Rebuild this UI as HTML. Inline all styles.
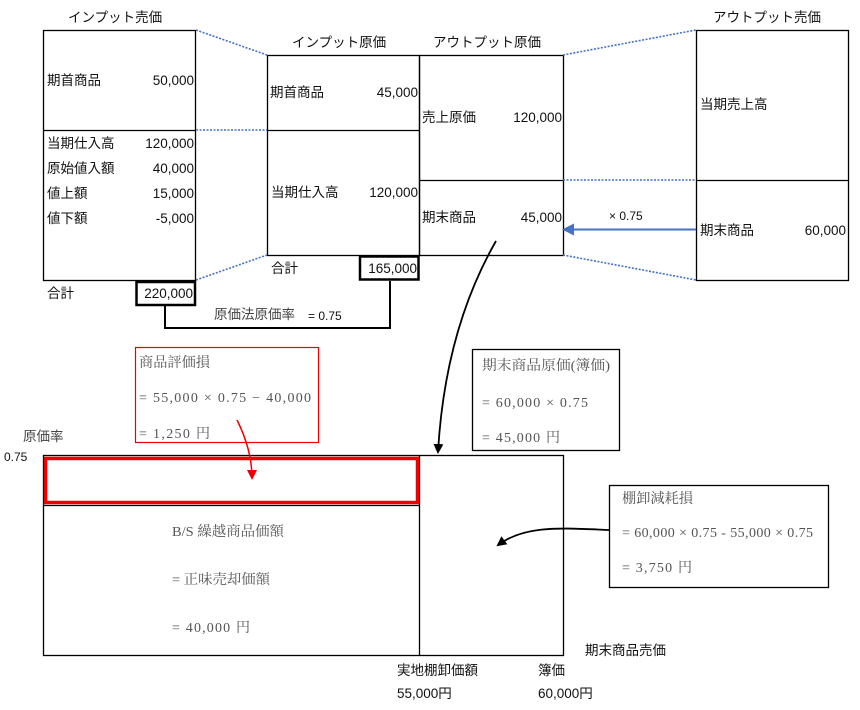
<!DOCTYPE html>
<html><head><meta charset="utf-8"><style>
html,body{margin:0;padding:0;background:#fff;width:860px;height:710px;overflow:hidden}
svg{display:block}
.s{font-family:"Liberation Sans","Noto Sans CJK JP",sans-serif;font-size:13.5px;fill:#111}
.r{font-family:"Liberation Serif","Noto Serif CJK SC",serif;font-size:14px;fill:#555}
</style></head><body>
<svg width="860" height="710" viewBox="0 0 860 710" xmlns="http://www.w3.org/2000/svg">
<defs>
<marker id="ab" markerWidth="10" markerHeight="10" refX="8" refY="5" orient="auto" markerUnits="userSpaceOnUse"><path d="M0,0 L10,5 L0,10 Z" fill="#000"/></marker>
<marker id="ar" markerWidth="10" markerHeight="10" refX="8" refY="5" orient="auto" markerUnits="userSpaceOnUse"><path d="M0,0 L10,5 L0,10 Z" fill="#e00"/></marker>
<marker id="abl" markerWidth="12" markerHeight="12" refX="9" refY="6" orient="auto" markerUnits="userSpaceOnUse"><path d="M0,0 L12,6 L0,12 Z" fill="#4472c4"/></marker>
</defs>
<g fill="none" stroke="#000" stroke-width="1.3">
<rect x="43.5" y="30.5" width="152" height="250"/><line x1="43" y1="130.5" x2="196" y2="130.5"/>
<rect x="267.5" y="55.5" width="152" height="200"/><line x1="267" y1="130.5" x2="420" y2="130.5"/>
<rect x="419.5" y="55.5" width="144" height="200"/><line x1="419" y1="180.5" x2="564" y2="180.5"/>
<rect x="696.5" y="30.5" width="152" height="250"/><line x1="696" y1="180.5" x2="849" y2="180.5"/>
<rect x="43.5" y="455.5" width="520" height="200"/><line x1="419.5" y1="455" x2="419.5" y2="656"/><line x1="43" y1="505.5" x2="420" y2="505.5"/>
<rect x="472.5" y="349.5" width="147" height="101"/>
<rect x="609.5" y="485.5" width="219" height="102"/>
</g>
<g fill="none" stroke="#000" stroke-width="2.5">
<rect x="136.5" y="282" width="58.5" height="23"/>
<rect x="360" y="256.5" width="58.5" height="23"/>
</g>
<polyline points="165,306 165,328 390,328 390,281" fill="none" stroke="#000" stroke-width="2"/>
<g stroke="#4472c4" stroke-width="1.6" stroke-dasharray="2,1.5" fill="none">
<line x1="196" y1="30" x2="267" y2="55"/><line x1="196" y1="130" x2="267" y2="130"/><line x1="196" y1="280" x2="267" y2="255"/>
<line x1="563" y1="55" x2="696" y2="30"/><line x1="563" y1="180" x2="696" y2="180"/><line x1="563" y1="255" x2="696" y2="280"/>
</g>
<line x1="696" y1="229.5" x2="565" y2="229.5" stroke="#4472c4" stroke-width="2" marker-end="url(#abl)"/>
<rect x="135.5" y="347.5" width="183" height="95" fill="none" stroke="#e00" stroke-width="1.2"/>
<rect x="45.5" y="458.5" width="372" height="44" fill="none" stroke="#e00" stroke-width="3.5"/>
<path d="M237,420 Q252,450 252,478" fill="none" stroke="#e00" stroke-width="1.5" marker-end="url(#ar)"/>
<path d="M496,241 Q445,330 438,452" fill="none" stroke="#000" stroke-width="1.8" marker-end="url(#ab)"/>
<path d="M609,530 C560,528 525,525 498,545" fill="none" stroke="#000" stroke-width="1.8" marker-end="url(#ab)"/>

<text class="s" x="68" y="22">インプット売価</text>
<text class="s" x="292" y="47">インプット原価</text>
<text class="s" x="433" y="47">アウトプット原価</text>
<text class="s" x="713" y="22">アウトプット売価</text>
<text class="s" x="47" y="85">期首商品</text><text class="s" x="194" y="85" text-anchor="end">50,000</text>
<text class="s" x="47" y="148">当期仕入高</text><text class="s" x="194" y="148" text-anchor="end">120,000</text>
<text class="s" x="47" y="173">原始値入額</text><text class="s" x="194" y="173" text-anchor="end">40,000</text>
<text class="s" x="47" y="198">値上額</text><text class="s" x="194" y="198" text-anchor="end">15,000</text>
<text class="s" x="47" y="223">値下額</text><text class="s" x="194" y="223" text-anchor="end">-5,000</text>
<text class="s" x="47" y="298">合計</text><text class="s" x="193" y="298" text-anchor="end">220,000</text>
<text class="s" x="270" y="97">期首商品</text><text class="s" x="418" y="97" text-anchor="end">45,000</text>
<text class="s" x="271" y="197">当期仕入高</text><text class="s" x="418" y="197" text-anchor="end">120,000</text>
<text class="s" x="271" y="273">合計</text><text class="s" x="417" y="273" text-anchor="end">165,000</text>
<text class="s" x="214" y="319" style="fill:#444">原価法原価率</text><text class="s" x="308" y="320" style="font-size:12px">= 0.75</text>
<text class="s" x="422" y="122">売上原価</text><text class="s" x="562" y="122" text-anchor="end">120,000</text>
<text class="s" x="422" y="222">期末商品</text><text class="s" x="562" y="222" text-anchor="end">45,000</text>
<text class="s" x="700" y="109">当期売上高</text>
<text class="s" x="700" y="235">期末商品</text><text class="s" x="846" y="235" text-anchor="end">60,000</text>
<text class="s" x="609" y="220" style="font-size:12px">× 0.75</text>
<text class="r" x="139" y="367" textLength="71" lengthAdjust="spacingAndGlyphs">商品評価損</text>
<text class="r" x="139" y="402" textLength="172" lengthAdjust="spacing">= 55,000 × 0.75 − 40,000</text>
<text class="r" x="139" y="438" textLength="71" lengthAdjust="spacing">= 1,250 円</text>
<text class="r" x="482" y="370" textLength="128" lengthAdjust="spacingAndGlyphs">期末商品原価(簿価)</text>
<text class="r" x="482" y="407" textLength="106" lengthAdjust="spacing">= 60,000 × 0.75</text>
<text class="r" x="482" y="442" textLength="78" lengthAdjust="spacing">= 45,000 円</text>
<text class="r" x="622" y="503" textLength="71" lengthAdjust="spacingAndGlyphs">棚卸減耗損</text>
<text class="r" x="622" y="537" textLength="191" lengthAdjust="spacing">= 60,000 × 0.75 - 55,000 × 0.75</text>
<text class="r" x="622" y="572" textLength="70" lengthAdjust="spacing">= 3,750 円</text>
<text class="r" x="172" y="536" textLength="112" lengthAdjust="spacingAndGlyphs">B/S 繰越商品価額</text>
<text class="r" x="172" y="584" textLength="98" lengthAdjust="spacingAndGlyphs">= 正味売却価額</text>
<text class="r" x="172" y="632" textLength="78" lengthAdjust="spacing">= 40,000 円</text>
<text class="s" x="23" y="441" style="fill:#444">原価率</text>
<text class="s" x="4" y="461" style="font-size:12px">0.75</text>
<text class="s" x="585" y="655">期末商品売価</text>
<text class="s" x="397" y="675">実地棚卸価額</text>
<text class="s" x="538" y="675">簿価</text>
<text class="s" x="397" y="698">55,000円</text>
<text class="s" x="538" y="698">60,000円</text>
</svg>
</body></html>
